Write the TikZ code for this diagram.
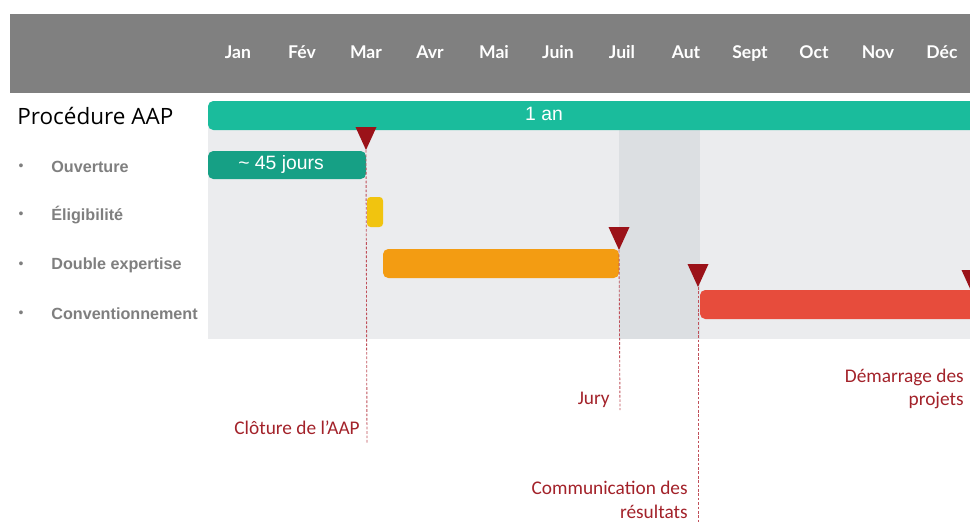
\documentclass[tikz,border=0pt]{standalone}
\usepackage{fontspec}
\setmainfont{Liberation Sans}
\newfontfamily\monthfont{Lato}
\newfontfamily\titlefont{Open Sans}
\newfontfamily\notefont{Carlito}
\usepackage{xcolor}
\usepackage{tikz}

\definecolor{headgrey}{HTML}{808080}
\definecolor{rowgrey}{HTML}{7F7F7F}
\definecolor{panel}{HTML}{EBECEE}
\definecolor{band}{HTML}{DCDFE2}
\definecolor{teal1}{HTML}{1ABC9C}
\definecolor{teal2}{HTML}{16A085}
\definecolor{yell}{HTML}{F1C40F}
\definecolor{orng}{HTML}{F39C12}
\definecolor{redbar}{HTML}{E74C3C}
\definecolor{mark}{HTML}{9B1219}
\definecolor{notered}{HTML}{A3222A}
\definecolor{tickred}{HTML}{C0505A}

\begin{document}
\begin{tikzpicture}[x=0.02cm,y=-0.02cm,
    every node/.style={inner sep=0pt},
    month/.style={anchor=base,text=white,font=\monthfont\bfseries\fontsize{10}{12}\selectfont},
    task/.style={anchor=west,text=rowgrey,font=\bfseries\fontsize{9.2}{11}\selectfont},
    bartext/.style={text=white,font=\fontsize{11}{13}\selectfont},
    note/.style={anchor=east,align=right,text=notered,font=\notefont\fontsize{11}{13.4}\selectfont},
    tick/.style={draw=tickred,dash pattern=on 1.5pt off 1pt,line width=0.5pt},
    flag/.style={fill=mark}]
    \clip (0,0) rectangle (970,524);
    \fill[white] (0,0) rectangle (970,524);
    % header and background
    \fill[headgrey] (10,14) rectangle (970,93);
    \fill[panel] (208,120) rectangle (970,339);
    \fill[band] (619,130) rectangle (700,339);
    \foreach \m [count=\i from 0] in {Jan,Fév,Mar,Avr,Mai,Juin,Juil,Aut,Sept,Oct,Nov,Déc}
        \node[month] (month\i) at (238+64*\i,58) {\m};
    % left labels
    \node[anchor=west,font=\titlefont\fontsize{12.8}{15}\selectfont] (title) at (17,116) {Procédure AAP};
    \foreach \t/\y [count=\i] in {Ouverture/167,Éligibilité/215,Double expertise/265,Conventionnement/314} {
        \node[text=rowgrey,font=\fontsize{8}{9}\selectfont] (dot\i) at (21,\y) {•};
        \node[task] (task\i) at (51,\y) {\t};
    }
    % bars
    \fill[teal1,rounded corners=3pt] (208,101) rectangle (990,130);
    \node[bartext] (year) at (544,114) {1 an};
    \fill[teal2,rounded corners=3pt] (208,151) rectangle (366,179);
    \node[bartext] (jours) at (281,165) {\textasciitilde{} 45 jours};
    \fill[yell,rounded corners=2pt] (367,197) rectangle (383,227);
    \fill[orng,rounded corners=3pt] (383,249) rectangle (619,278);
    \fill[redbar,rounded corners=3pt] (700,290) rectangle (990,319);
    % milestones
    \coordinate (mclot) at (366,150);
    \coordinate (mjury) at (619,250);
    \coordinate (mcomm) at (698,287);
    \coordinate (mdem) at (972,293);
    \foreach \c in {mclot,mjury,mcomm,mdem}
        \fill[flag] (\c) -- ++(-10.5,-23) -- ++(21,0) -- cycle;
    \coordinate (eclot) at (367,443);
    \coordinate (ejury) at (620,410);
    \coordinate (ecomm) at (698,524);
    \draw[tick] (mclot) -- (eclot);
    \draw[tick] (mjury) -- (ejury);
    \draw[tick] (mcomm) -- (ecomm);
    % notes
    \node[note] (clot) at (360,428) {Clôture de l’AAP};
    \node[note] (jury) at (610,400) {Jury};
    \node[note] (comm) at (688,500) {Communication des\\résultats};
    \node[note] (dem) at (964,389) {Démarrage des\\projets};
\end{tikzpicture}
\end{document}
